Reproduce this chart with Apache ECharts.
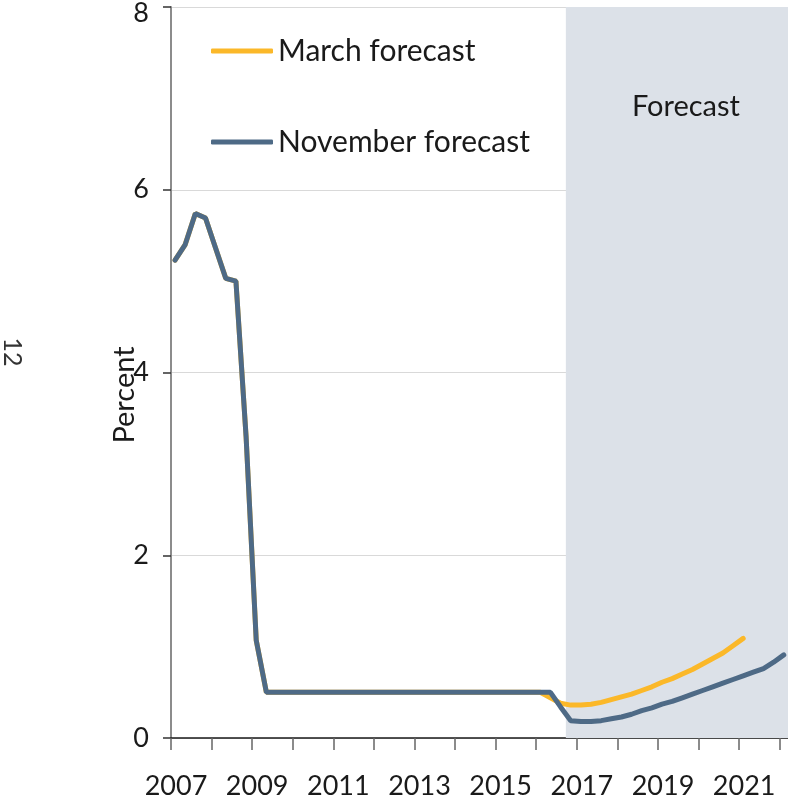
<!DOCTYPE html>
<html>
<head>
<meta charset="utf-8">
<script src="https://cdn.jsdelivr.net/npm/echarts@6/dist/echarts.min.js"></script>
<style>
  html, body { margin: 0; padding: 0; background: #ffffff; overflow: hidden; }
  #chart { width: 788px; height: 804px; }
</style>
</head>
<body>
<div id="chart"></div>
<script>
// Bank Rate, quarterly, per cent.
// Outturn common to both forecasts: 2007Q1 to 2016Q1.
const outturn = [
  5.23, 5.40, 5.74, 5.69,
  5.36, 5.03, 5.00, 3.30,
  1.07, 0.50, 0.50, 0.50,
  0.50, 0.50, 0.50, 0.50,
  0.50, 0.50, 0.50, 0.50,
  0.50, 0.50, 0.50, 0.50,
  0.50, 0.50, 0.50, 0.50,
  0.50, 0.50, 0.50, 0.50,
  0.50, 0.50, 0.50, 0.50,
  0.50
];
// March forecast path: 2016Q2 to 2021Q1.
const marchPath = [
  0.44, 0.38, 0.36,
  0.36, 0.37, 0.39, 0.42,
  0.45, 0.48, 0.52, 0.56,
  0.61, 0.65, 0.70, 0.75,
  0.81, 0.87, 0.93, 1.01,
  1.09
];
// November forecast path: 2016Q2 to 2022Q1.
const novemberPath = [
  0.50, 0.34, 0.19,
  0.18, 0.18, 0.19, 0.21,
  0.23, 0.26, 0.30, 0.33,
  0.37, 0.40, 0.44, 0.48,
  0.52, 0.56, 0.60, 0.64,
  0.68, 0.72, 0.76, 0.83,
  0.91
];
const seriesNames = ['March forecast', 'November forecast'];
const yearLabels = [2007, 2009, 2011, 2013, 2015, 2017, 2019, 2021];
const firstYear = 2007;
const lastYear = 2022.5;
const forecastStart = 2016.73;

// Quarter i (counted from 2007Q1) placed on a decimal-year axis.
function quarterTime(i) {
  return firstYear + i / 4 + 0.1;
}
function toPoints(values) {
  return values.map((v, i) => [quarterTime(i), v]);
}

const marchValues = outturn.concat(marchPath);
const novemberValues = outturn.concat(novemberPath);

const FONT = 'Lato';
const INK = '#1a1a1a';

const chart = echarts.init(document.getElementById('chart'), null, { renderer: 'canvas' });

chart.setOption({
  animation: false,
  backgroundColor: '#ffffff',
  textStyle: { fontFamily: FONT },
  grid: { left: 171, width: 629, top: 7, bottom: 66, containLabel: false, outerBoundsMode: 'none' },
  legend: {
    data: seriesNames,
    orient: 'vertical',
    left: 211,
    top: 36,
    padding: 0,
    itemWidth: 62,
    itemHeight: 5,
    itemGap: 61,
    icon: 'roundRect',
    selectedMode: false,
    textStyle: { fontFamily: FONT, fontSize: 30, lineHeight: 30, color: INK }
  },
  xAxis: {
    type: 'value',
    min: firstYear,
    max: lastYear,
    interval: 1,
    splitLine: { show: false },
    axisLine: { show: true, onZero: false, lineStyle: { color: INK, width: 1.5 } },
    axisTick: { show: true, length: 12, lineStyle: { color: '#666666', width: 1.5 } },
    axisLabel: {
      show: true,
      showMaxLabel: false,
      margin: 35,
      fontFamily: FONT,
      fontSize: 27,
      color: INK,
      padding: [0, 0, 0, 10],
      formatter: function (v) {
        return yearLabels.indexOf(v) >= 0 ? String(v) : '';
      }
    }
  },
  yAxis: {
    type: 'value',
    min: 0,
    max: 8,
    interval: 2,
    axisLine: { show: true, lineStyle: { color: '#8c8c8c', width: 2 } },
    axisTick: { show: true, length: 8, lineStyle: { color: '#333333', width: 1.5 } },
    splitLine: { show: true, lineStyle: { color: '#d9d9d9', width: 1 } },
    axisLabel: {
      margin: 22,
      fontFamily: FONT,
      fontSize: 27,
      color: INK,
      formatter: function (v) {
        return v === 8 ? '{top|' + v + '}' : String(v);
      },
      rich: {
        top: { fontFamily: FONT, fontSize: 27, color: INK, padding: [12, 0, 0, 0] }
      }
    }
  },
  graphic: [
    {
      type: 'text',
      x: 125, y: 395,
      rotation: Math.PI / 2,
      style: { text: 'Percent', fontFamily: FONT, fontSize: 29, fill: INK, align: 'center', verticalAlign: 'middle' }
    },
    {
      type: 'text',
      x: 12, y: 352,
      rotation: -Math.PI / 2,
      style: { text: '12', fontFamily: FONT, fontSize: 25, fill: '#333333', align: 'center', verticalAlign: 'middle' }
    }
  ],
  series: [
    {
      name: seriesNames[0],
      type: 'line',
      data: toPoints(marchValues),
      symbol: 'none',
      color: '#fbb829',
      lineStyle: { color: '#fbb829', width: 5, cap: 'round' },
      z: 3,
      markArea: {
        silent: true,
        itemStyle: { color: '#dce1e8' },
        label: {
          show: true,
          position: 'insideTop',
          distance: 85,
          offset: [3, 0],
          formatter: 'Forecast',
          fontFamily: FONT,
          fontSize: 29,
          color: INK
        },
        data: [[{ xAxis: forecastStart }, { xAxis: lastYear }]]
      }
    },
    {
      name: seriesNames[1],
      type: 'line',
      data: toPoints(novemberValues),
      symbol: 'none',
      color: '#4e6a86',
      lineStyle: { color: '#4e6a86', width: 5, cap: 'round' },
      z: 4
    }
  ]
});
</script>
</body>
</html>
